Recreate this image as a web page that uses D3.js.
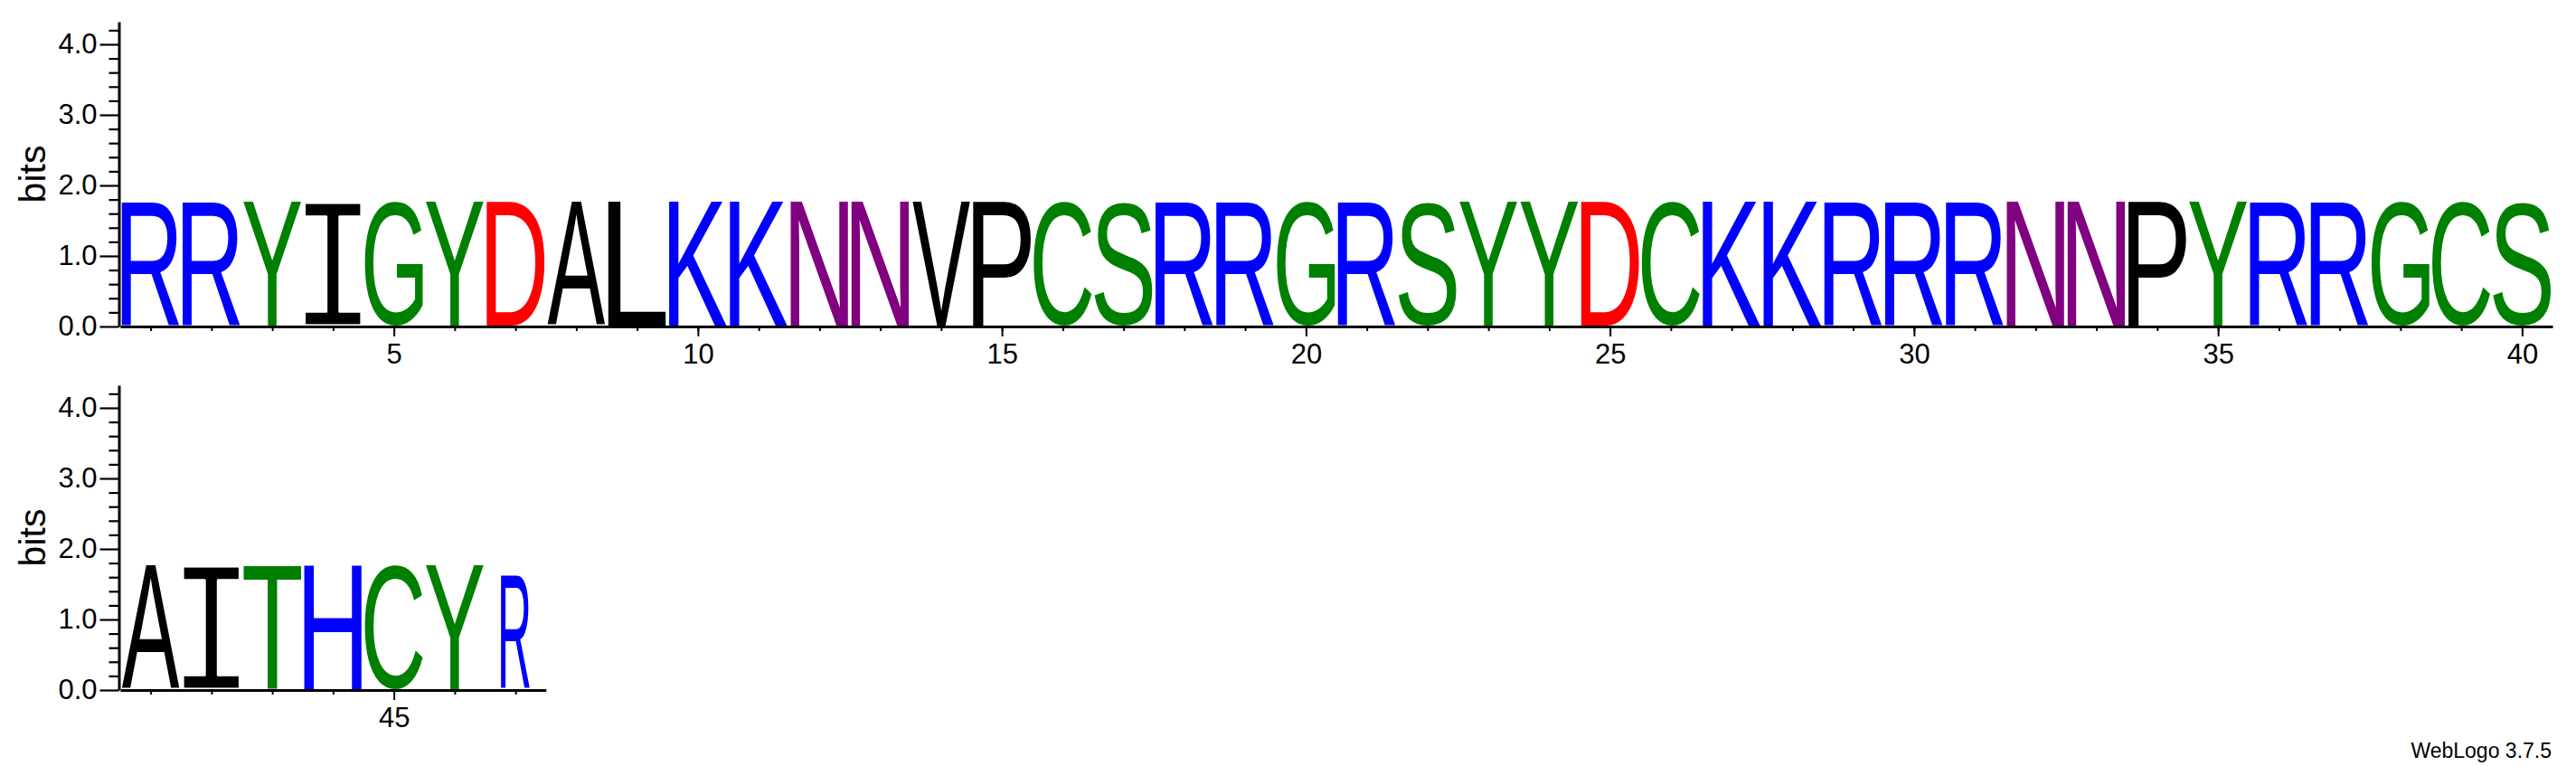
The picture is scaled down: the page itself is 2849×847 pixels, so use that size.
<!DOCTYPE html>
<html>
<head>
<meta charset="utf-8">
<title>WebLogo</title>
<script src="https://cdn.jsdelivr.net/npm/d3@7/dist/d3.min.js"></script>
<style>
    html, body { margin: 0; padding: 0; background: #ffffff; }
    svg { display: block; }
    .axis text { font-family: "Liberation Sans", Arial, sans-serif; fill: #000; }
    .axis path, .axis line { stroke: #000; }
</style>
</head>
<body>
<svg id="logo"></svg>
<script>
/* Sequence positions 1..47, one residue per stack */
const residues = [
    "R", "R", "Y", "I", "G", "Y", "D", "A", "L", "K",
    "K", "N", "N", "V", "P", "C", "S", "R", "R", "G",
    "R", "S", "Y", "Y", "D", "C", "K", "K", "R", "R",
    "R", "N", "N", "P", "Y", "R", "R", "G", "C", "S",
    "A", "I", "T", "H", "C", "Y", "R"
];

/* Stack height in bits */
const bits = [
    1.77, 1.77, 1.77, 1.77, 1.77, 1.77, 1.77, 1.77, 1.77, 1.77,
    1.77, 1.77, 1.77, 1.77, 1.77, 1.77, 1.77, 1.77, 1.77, 1.77,
    1.77, 1.77, 1.77, 1.77, 1.77, 1.77, 1.77, 1.77, 1.77, 1.77,
    1.77, 1.77, 1.77, 1.77, 1.77, 1.77, 1.77, 1.77, 1.77, 1.77,
    1.77, 1.77, 1.77, 1.77, 1.77, 1.77, 1.62
];

/* Fraction of non-gap symbols (scales stack width) */
const stackWidths = [
    1, 1, 1, 1, 1, 1, 1, 1, 1, 1,
    1, 1, 1, 1, 1, 1, 1, 1, 1, 1,
    1, 1, 1, 1, 1, 1, 1, 1, 1, 1,
    1, 1, 1, 1, 1, 1, 1, 1, 1, 1,
    1, 1, 1, 1, 1, 1, 0.5
];

const rowFirst    = [1, 41];
const rowLast     = [40, 47];
const yMajorTicks = [0, 1, 2, 3, 4];
const yMinorTicks = [0.2, 0.4, 0.6, 0.8, 1.2, 1.4, 1.6, 1.8, 2.2, 2.4, 2.6, 2.8,
                     3.2, 3.4, 3.6, 3.8, 4.2];
const xLabelTicks = [5, 10, 15, 20, 25, 30, 35, 40, 45];
const yMax        = 4.32;

// chemistry colour scheme
const colors = {
    G: "#008000", S: "#008000", T: "#008000", Y: "#008000", C: "#008000",
    N: "#800080", Q: "#800080",
    K: "#0000ff", R: "#0000ff", H: "#0000ff",
    D: "#ff0000", E: "#ff0000"
};

const WIDTH     = 2849;
const HEIGHT    = 847;
const axisX     = 131.5;
const plotLeft  = 133;
const colWidth  = 67.25;
const glyphW    = 64;
const pxPerBit  = 78;
const baselines = [361, 763];
const MEASURE   = 200;

const svg = d3.select("#logo")
    .attr("width", WIDTH)
    .attr("height", HEIGHT);

const ctx = document.createElement("canvas").getContext("2d");

/**
 * Ink extents of a single glyph, so it can be stretched to fill its box.
 */
function inkBox(letter, family)
{
    ctx.font = MEASURE + "px " + family;
    let m = ctx.measureText(letter);
    return {
        left:    m.actualBoundingBoxLeft,
        right:   m.actualBoundingBoxRight,
        ascent:  m.actualBoundingBoxAscent,
        descent: m.actualBoundingBoxDescent
    };
}

function fontFor(letter)
{
    // the logo's I carries bars, take it from a mono face
    return (letter === "I") ? "'Liberation Mono'" : "'Liberation Sans'";
}

/**
 * One line of the logo: its axes and its letter stacks.
 */
class LogoRow
{
    constructor(index)
    {
        this.first    = rowFirst[index];
        this.last     = rowLast[index];
        this.baseline = baselines[index];

        let n = this.last - this.first + 1;

        this.x = d3.scaleLinear()
            .domain([this.first - 0.5, this.last + 0.5])
            .range([plotLeft, plotLeft + n * colWidth]);

        this.y = d3.scaleLinear()
            .domain([0, yMax])
            .range([this.baseline, this.baseline - yMax * pxPerBit]);

        this.group = svg.append("g").attr("class", "row");
    }

    drawAxes()
    {
        let positions = d3.range(this.first, this.last + 1);
        let labelled  = xLabelTicks.filter(t => t >= this.first && t <= this.last);

        // y axis, minor then major
        let yMinor = this.group.append("g")
            .attr("class", "axis")
            .attr("transform", `translate(${axisX},0)`)
            .call(d3.axisLeft(this.y).tickValues(yMinorTicks).tickSize(11).tickSizeOuter(0).tickFormat(""));
        yMinor.select(".domain").attr("stroke-width", 3);
        yMinor.selectAll(".tick line").attr("stroke-width", 2.2);

        let yMajor = this.group.append("g")
            .attr("class", "axis")
            .attr("transform", `translate(${axisX},0)`)
            .call(d3.axisLeft(this.y).tickValues(yMajorTicks).tickSize(21).tickPadding(3).tickFormat(d3.format(".1f")));
        yMajor.select(".domain").remove();
        yMajor.selectAll(".tick line").attr("stroke-width", 2.2);
        yMajor.selectAll(".tick text").attr("font-size", 31);

        // x axis, one small tick per column, longer labelled ticks every 5
        let xMinor = this.group.append("g")
            .attr("class", "axis")
            .attr("transform", `translate(0,${this.baseline})`)
            .call(d3.axisBottom(this.x).tickValues(positions).tickSize(5).tickSizeOuter(0).tickFormat(""));
        xMinor.select(".domain").attr("stroke-width", 3);
        xMinor.selectAll(".tick line").attr("stroke-width", 2);

        let xMajor = this.group.append("g")
            .attr("class", "axis")
            .attr("transform", `translate(0,${this.baseline})`)
            .call(d3.axisBottom(this.x).tickValues(labelled).tickSize(11).tickPadding(8).tickFormat(d3.format("d")));
        xMajor.select(".domain").remove();
        xMajor.selectAll(".tick line").attr("stroke-width", 2);
        xMajor.selectAll(".tick text").attr("font-size", 31);

        // axis title
        this.group.append("text")
            .attr("class", "axis")
            .attr("transform", `translate(50,${(this.y(0) + this.y(yMax)) / 2}) rotate(-90)`)
            .attr("text-anchor", "middle")
            .attr("font-family", "'Liberation Sans', Arial, sans-serif")
            .attr("font-size", 41)
            .text("bits");
    }

    drawStacks()
    {
        let self = this;
        let cols = d3.range(this.first, this.last + 1).map(p => ({
            pos:    p,
            letter: residues[p - 1],
            height: bits[p - 1],
            width:  stackWidths[p - 1]
        }));

        let letters = this.group.selectAll("text.letter")
            .data(cols)
            .enter()
            .append("text")
            .attr("class", "letter")
            .attr("font-family", d => fontFor(d.letter))
            .attr("font-size", MEASURE)
            .attr("fill", d => colors[d.letter] || "#000000")
            .attr("transform", function (d) {
                let ink = inkBox(d.letter, fontFor(d.letter));
                let w   = glyphW * d.width;
                let top = self.y(d.height);
                let bot = self.y(0) - 1.5;
                let sx  = w / (ink.left + ink.right);
                let sy  = (bot - top) / (ink.ascent + ink.descent);
                return `translate(${self.x(d.pos) - w / 2},${top}) scale(${sx},${sy}) translate(${ink.left},${ink.ascent})`;
            })
            .text(d => d.letter);

        // mono I comes out heavy once stretched, shave its outline a little
        letters.filter(d => d.letter === "I")
            .attr("stroke", "#ffffff")
            .attr("stroke-width", 3)
            .attr("stroke-linejoin", "round");
    }
}

[0, 1].forEach(i => {
    let row = new LogoRow(i);
    row.drawStacks();
    row.drawAxes();
});

svg.append("text")
    .attr("x", 2822)
    .attr("y", 838)
    .attr("text-anchor", "end")
    .attr("font-family", "'Liberation Sans', Arial, sans-serif")
    .attr("font-size", 23)
    .text("WebLogo 3.7.5");
</script>
</body>
</html>
